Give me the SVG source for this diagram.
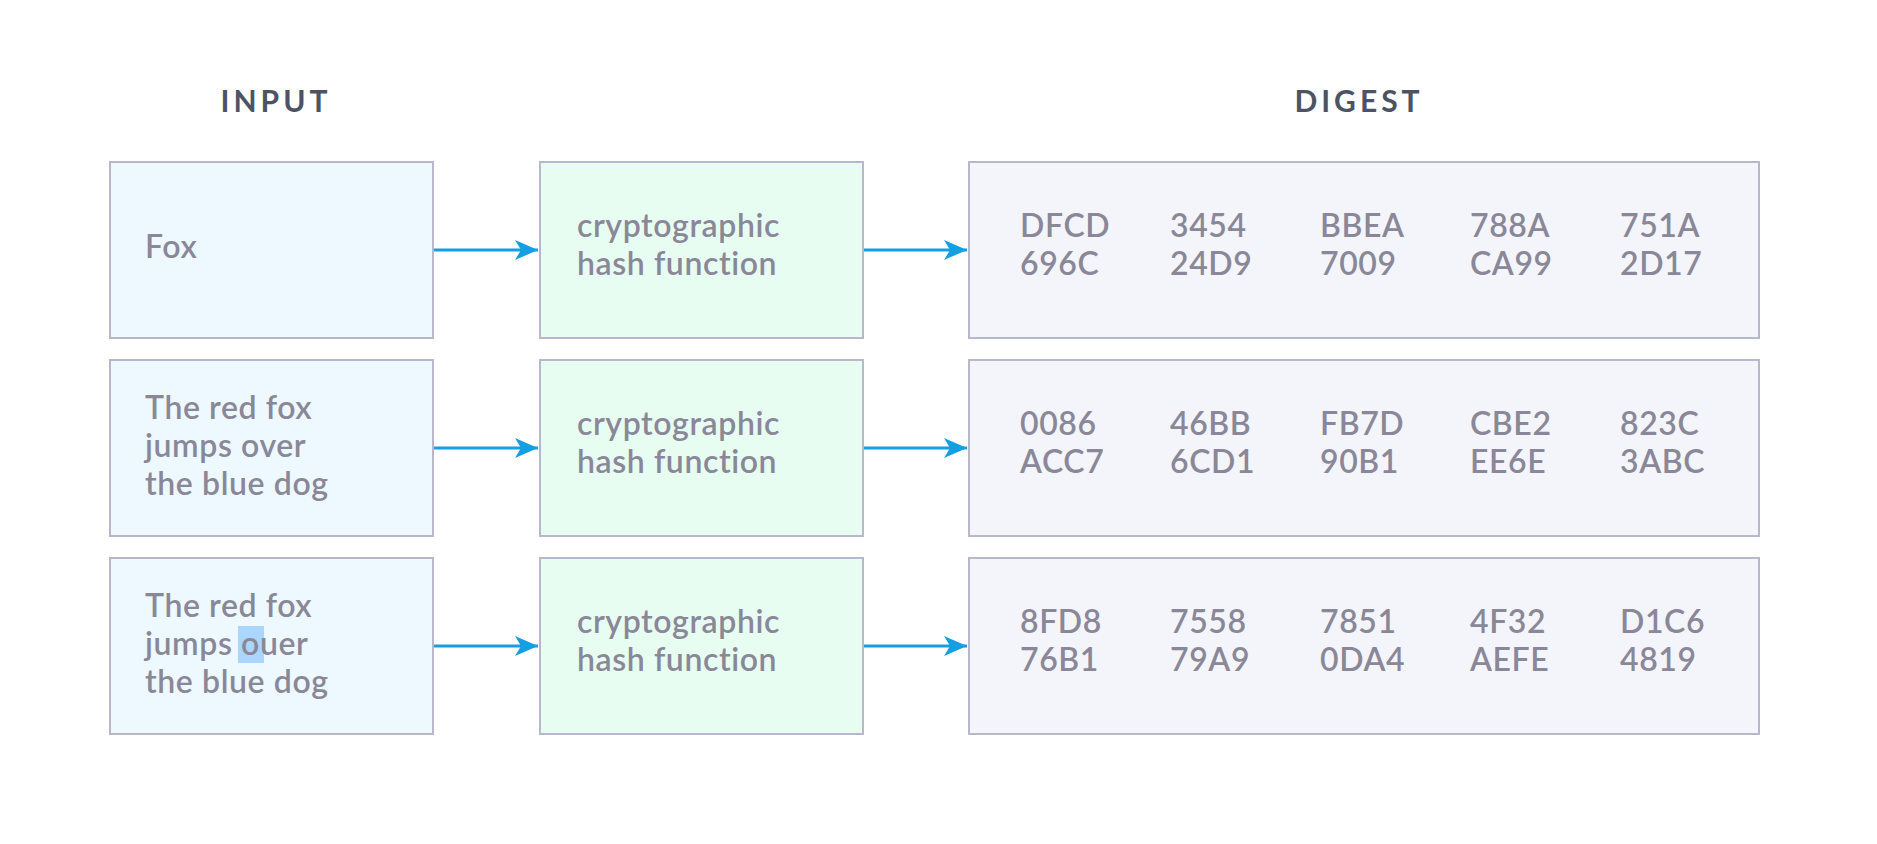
<svg xmlns="http://www.w3.org/2000/svg" width="1877" height="844" viewBox="0 0 1877 844">
<defs>
<style>
.hdr{font-family:Lato,"Open Sans","Liberation Sans",sans-serif;font-weight:700;font-size:30px;fill:#4b5364;letter-spacing:4px;text-anchor:middle}
.t{font-family:Lato,"Open Sans","Liberation Sans",sans-serif;font-weight:600;font-size:32px;fill:#8a8898;letter-spacing:0.6px}
.in{fill:#eef8ff;stroke:#b9b7cb;stroke-width:2}
.fn{fill:#e8fdf2;stroke:#b9b7cb;stroke-width:2}
.dg{fill:#f4f5fa;stroke:#b9b7cb;stroke-width:2}
.c{stroke:#159fe3;stroke-width:3;fill:none}
</style>
<marker id="ah" markerUnits="userSpaceOnUse" markerWidth="26" markerHeight="22" refX="24" refY="11" orient="auto">
<path d="M1,1 L24,11 L1,21 L7,11 Z" fill="#159fe3"/>
</marker>
</defs>
<rect width="1877" height="844" fill="#ffffff"/>
<g id="headers">
<text class="hdr" x="276" y="112">INPUT</text>
<text class="hdr" x="1359" y="112">DIGEST</text>
</g>
<g id="input1"><rect class="in" x="110" y="162" width="323" height="176"/><text class="t" x="145" y="258">Fox</text></g>
<g id="input2"><rect class="in" x="110" y="360" width="323" height="176"/>
<text class="t" x="145" y="419">The red fox</text><text class="t" x="145" y="457">jumps over</text><text class="t" x="145" y="495">the blue dog</text></g>
<g id="input3"><rect class="in" x="110" y="558" width="323" height="176"/>
<rect x="238" y="626" width="26" height="37" fill="#aad5fd"/>
<text class="t" x="145" y="617">The red fox</text><text class="t" x="145" y="655">jumps ouer</text><text class="t" x="145" y="693">the blue dog</text></g>
<g id="hash1"><rect class="fn" x="540" y="162" width="323" height="176"/>
<text class="t" x="577" y="237">cryptographic</text><text class="t" x="577" y="275">hash function</text></g>
<g id="hash2"><rect class="fn" x="540" y="360" width="323" height="176"/>
<text class="t" x="577" y="435">cryptographic</text><text class="t" x="577" y="473">hash function</text></g>
<g id="hash3"><rect class="fn" x="540" y="558" width="323" height="176"/>
<text class="t" x="577" y="633">cryptographic</text><text class="t" x="577" y="671">hash function</text></g>
<g id="digest1"><rect class="dg" x="969" y="162" width="790" height="176"/>
<text class="t" y="237"><tspan x="1020">DFCD</tspan><tspan x="1170">3454</tspan><tspan x="1320">BBEA</tspan><tspan x="1470">788A</tspan><tspan x="1620">751A</tspan></text>
<text class="t" y="275"><tspan x="1020">696C</tspan><tspan x="1170">24D9</tspan><tspan x="1320">7009</tspan><tspan x="1470">CA99</tspan><tspan x="1620">2D17</tspan></text></g>
<g id="digest2"><rect class="dg" x="969" y="360" width="790" height="176"/>
<text class="t" y="435"><tspan x="1020">0086</tspan><tspan x="1170">46BB</tspan><tspan x="1320">FB7D</tspan><tspan x="1470">CBE2</tspan><tspan x="1620">823C</tspan></text>
<text class="t" y="473"><tspan x="1020">ACC7</tspan><tspan x="1170">6CD1</tspan><tspan x="1320">90B1</tspan><tspan x="1470">EE6E</tspan><tspan x="1620">3ABC</tspan></text></g>
<g id="digest3"><rect class="dg" x="969" y="558" width="790" height="176"/>
<text class="t" y="633"><tspan x="1020">8FD8</tspan><tspan x="1170">7558</tspan><tspan x="1320">7851</tspan><tspan x="1470">4F32</tspan><tspan x="1620">D1C6</tspan></text>
<text class="t" y="671"><tspan x="1020">76B1</tspan><tspan x="1170">79A9</tspan><tspan x="1320">0DA4</tspan><tspan x="1470">AEFE</tspan><tspan x="1620">4819</tspan></text></g>
<g id="connectors">
<line class="c" x1="434" y1="250" x2="538" y2="250" marker-end="url(#ah)"/>
<line class="c" x1="864" y1="250" x2="967" y2="250" marker-end="url(#ah)"/>
<line class="c" x1="434" y1="448" x2="538" y2="448" marker-end="url(#ah)"/>
<line class="c" x1="864" y1="448" x2="967" y2="448" marker-end="url(#ah)"/>
<line class="c" x1="434" y1="646" x2="538" y2="646" marker-end="url(#ah)"/>
<line class="c" x1="864" y1="646" x2="967" y2="646" marker-end="url(#ah)"/>
</g>
</svg>
